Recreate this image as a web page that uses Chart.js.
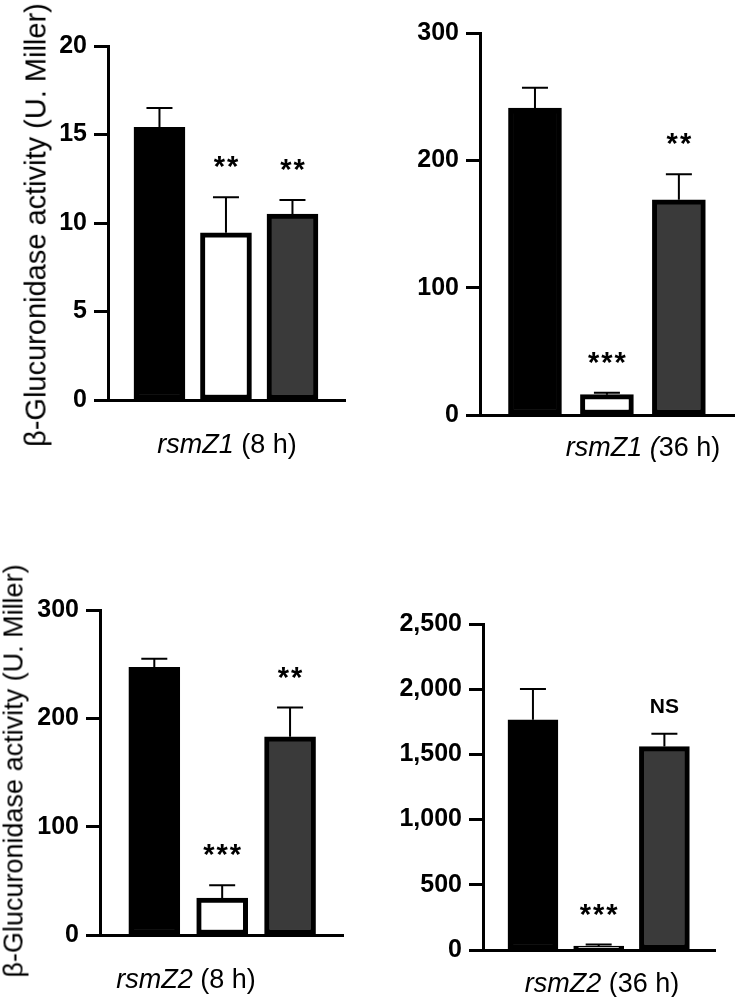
<!DOCTYPE html>
<html>
<head>
<meta charset="utf-8">
<script src="https://cdn.jsdelivr.net/npm/chart.js@4.4.0/dist/chart.umd.min.js"></script>
<style>
  html, body { margin: 0; padding: 0; background: #fff; }
  #fig { position: relative; width: 735px; height: 997px; overflow: hidden; font-family: Arial, "Liberation Sans", sans-serif; color: #000; }
  .panel { position: absolute; }
  .ytitle { position: absolute; white-space: nowrap; transform: translate(-50%, -50%) rotate(-90deg); }
  .xlabel { position: absolute; white-space: nowrap; font-size: 27px; transform: translate(-50%, -50%); }
</style>
</head>
<body>
<div id="fig">
  <div class="panel" style="left:0;top:0"><canvas id="c1" width="360" height="470"></canvas></div>
  <div class="panel" style="left:370px;top:0"><canvas id="c2" width="365" height="470"></canvas></div>
  <div class="panel" style="left:0;top:540px"><canvas id="c3" width="360" height="440"></canvas></div>
  <div class="panel" style="left:370px;top:540px"><canvas id="c4" width="365" height="440"></canvas></div>

  <div class="ytitle" style="left:36px;top:225px;font-size:29px">β-Glucuronidase activity (U. Miller)</div>
  <div class="ytitle" style="left:14px;top:771px;font-size:27px">β-Glucuronidase activity (U. Miller)</div>

  <div class="xlabel" style="left:227px;top:444px"><i>rsmZ1</i> (8 h)</div>
  <div class="xlabel" style="left:643px;top:447px"><i>rsmZ1 (</i>36 h)</div>
  <div class="xlabel" style="left:186px;top:979px"><i>rsmZ2</i> (8 h)</div>
  <div class="xlabel" style="left:602px;top:983px"><i>rsmZ2</i> (36 h)</div>
</div>

<script>
// strains (not labelled in the figure): black, white, grey bars
const strains = ['strain 1', 'strain 2', 'strain 3'];
const barColors = ['#000000', '#ffffff', '#3a3a3a'];

// rsmZ1 8 h
const z1_8h = [15.4, 9.45, 10.5];
const z1_8hErr = [1.1, 2.0, 0.8];
const z1_8hSig = ['', '**', '**'];

// rsmZ1 36 h
const z1_36h = [241, 16, 169];
const z1_36hErr = [16, 1.5, 20];
const z1_36hSig = ['', '***', '**'];

// rsmZ2 8 h
const z2_8h = [247, 34, 183];
const z2_8hErr = [8, 12, 27];
const z2_8hSig = ['', '***', '**'];

// rsmZ2 36 h
const z2_36h = [1765, 30, 1560];
const z2_36hErr = [237, 12, 98];
const z2_36hSig = ['', '***', 'NS'];

// error bars (upper only) + significance marks
const errorBars = {
  id: 'errorBars',
  afterDatasetsDraw(chart, args, opts) {
    const ctx = chart.ctx;
    const y = chart.scales.y;
    const meta = chart.getDatasetMeta(0);
    ctx.save();
    ctx.strokeStyle = '#000';
    ctx.fillStyle = '#000';
    ctx.lineWidth = 2;
    meta.data.forEach((bar, i) => {
      const top = y.getPixelForValue(opts.values[i] + opts.errors[i]);
      ctx.beginPath();
      ctx.moveTo(bar.x, bar.y);
      ctx.lineTo(bar.x, top);
      ctx.moveTo(bar.x - 13, top);
      ctx.lineTo(bar.x + 13, top);
      ctx.stroke();
      const mark = opts.marks[i];
      if (mark) {
        const stars = mark.indexOf('*') >= 0;
        ctx.font = stars ? 'bold 29px Arial, "Liberation Sans", sans-serif' : 'bold 21px Arial, "Liberation Sans", sans-serif';
        ctx.letterSpacing = stars ? '2px' : '0px';
        ctx.textAlign = 'center';
        ctx.textBaseline = 'alphabetic';
        ctx.fillText(mark, bar.x + (stars ? 1 : 0), top - 21);
      }
    });
    ctx.restore();
  }
};

function makeChart(id, values, errors, marks, o) {
  const ctx = document.getElementById(id).getContext('2d');
  return new Chart(ctx, {
    type: 'bar',
    data: {
      labels: strains,
      datasets: [{
        data: values.map((v, i) => ({ x: i, y: v })),
        backgroundColor: barColors,
        borderColor: '#000',
        borderWidth: 5,
        borderSkipped: false,
        barThickness: o.barW
      }]
    },
    options: {
      responsive: false,
      animation: false,
      layout: { padding: { top: o.padTop, right: o.padRight, left: 0, bottom: 0 } },
      scales: {
        x: {
          type: 'linear',
          offset: false,
          min: o.xMin,
          max: o.xMax,
          grid: { display: false },
          ticks: { display: false },
          border: { display: true, color: '#000', width: 3 },
          afterFit: s => { s.height = o.xH; }
        },
        y: {
          min: 0,
          max: o.yMax,
          ticks: {
            stepSize: o.step,
            color: '#000',
            padding: 7,
            font: { family: 'Arial, "Liberation Sans", sans-serif', size: 25, weight: 'bold' },
            callback: v => v.toLocaleString('en-US')
          },
          grid: { drawOnChartArea: false, tickLength: 14, tickWidth: 3, color: '#000' },
          border: { display: true, color: '#000', width: 3 },
          afterFit: s => { s.width = o.yW; }
        }
      },
      plugins: {
        legend: { display: false },
        tooltip: { enabled: false },
        errorBars: { values: values, errors: errors, marks: marks }
      }
    },
    plugins: [errorBars]
  });
}

makeChart('c1', z1_8h, z1_8hErr, z1_8hSig,
  { yMax: 20, step: 5, padTop: 46, padRight: 15, yW: 108, xH: 70, xMin: -0.774, xMax: 2.79, barW: 51 });
makeChart('c2', z1_36h, z1_36hErr, z1_36hSig,
  { yMax: 300, step: 100, padTop: 33, padRight: 0, yW: 110, xH: 55, xMin: -0.764, xMax: 2.78, barW: 53 });
makeChart('c3', z2_8h, z2_8hErr, z2_8hSig,
  { yMax: 300, step: 100, padTop: 70, padRight: 17, yW: 100, xH: 45, xMin: -0.80, xMax: 2.78, barW: 51 });
makeChart('c4', z2_36h, z2_36hErr, z2_36hSig,
  { yMax: 2500, step: 500, padTop: 84, padRight: 20, yW: 113, xH: 30, xMin: -0.76, xMax: 2.77, barW: 50 });
</script>
</body>
</html>
